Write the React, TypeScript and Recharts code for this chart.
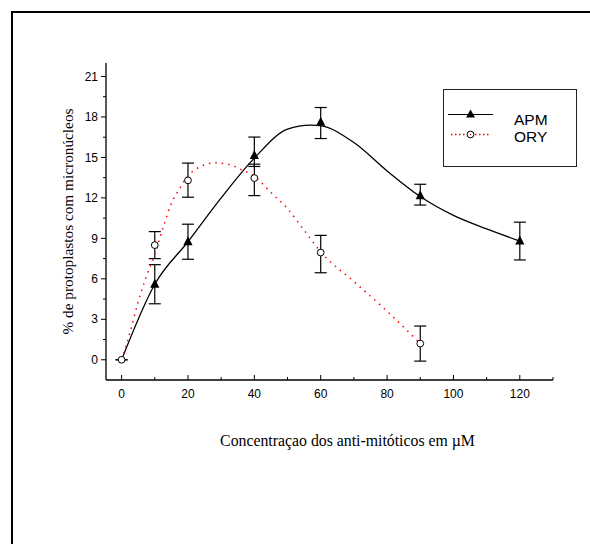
import React from "react";
import { ComposedChart, Line, Scatter, ErrorBar, XAxis, YAxis, Legend } from "recharts";

// measured points (concentration in µM, % with micronuclei) and error bar offsets [minus, plus]
const apmConc = [10, 20, 40, 60, 90, 120];
const apmValues = [5.6, 8.75, 15.15, 17.6, 12.15, 8.8];
const apmErrors = [[1.45, 1.45], [1.3, 1.3], [0.82, 1.36], [1.2, 1.1], [0.68, 0.86], [1.4, 1.4]];

const oryConc = [0, 10, 20, 40, 60, 90];
const oryValues = [0, 8.5, 13.3, 13.47, 7.95, 1.2];
const oryErrors = [[0, 0], [1.0, 1.0], [1.25, 1.28], [1.3, 1.03], [1.5, 1.27], [1.3, 1.3]];

// fitted curves
const apmFitX = [0, 10, 20, 30, 40, 50, 57, 60, 70, 80, 90, 100, 110, 120];
const apmFitY = [0, 5.6, 8.75, 12.0, 14.95, 17.1, 17.4, 17.35, 16.1, 14.0, 12.1, 10.7, 9.7, 8.8];

const oryFitX = [0, 2.5, 5, 7.5, 10, 12.5, 15, 17.5, 20, 22.5, 25, 28, 32, 36, 40, 45, 50, 55, 60, 70, 80, 90];
const oryFitY = [0, 2.0, 4.3, 6.2, 7.8, 9.8, 11.6, 12.7, 13.65, 14.15, 14.45, 14.6, 14.5, 14.1, 13.6, 12.4, 11.2, 9.6, 8.0, 5.8, 3.6, 1.2];

const xMajorTicks = [0, 20, 40, 60, 80, 100, 120];
const xMinorTicks = [10, 30, 50, 70, 90, 110, 130];
const yMajorTicks = [0, 3, 6, 9, 12, 15, 18, 21];
const yMinorTicks = [1.5, 4.5, 7.5, 10.5, 13.5, 16.5, 19.5];

const xTitle = "Concentraçao dos anti-mitóticos em µM";
const yTitle = "% de protoplastos com micronúcleos";

const apmPoints = apmConc.map((x, i) => ({ x, y: apmValues[i], err: apmErrors[i] }));
const oryPoints = oryConc.map((x, i) => ({ x, y: oryValues[i], err: oryErrors[i] }));
const apmFit = apmFitX.map((x, i) => ({ x, y: apmFitY[i] }));
const oryFit = oryFitX.map((x, i) => ({ x, y: oryFitY[i] }));

const sans = "'Liberation Sans', Arial, sans-serif";
const serif = "'Liberation Serif', 'Times New Roman', serif";

function XTick(props: any) {
  const { x, y, payload } = props;
  const axisY = y - 9;
  const major = xMajorTicks.includes(payload.value);
  return (
    <g>
      <line x1={x} x2={x} y1={axisY} y2={axisY - (major ? 5 : 3)} stroke="#000" strokeWidth={1} />
      {major && (
        <text x={x} y={y} dy="0.71em" textAnchor="middle" fontFamily={sans} fontSize={12} fill="#000">
          {payload.value}
        </text>
      )}
    </g>
  );
}

function YTick(props: any) {
  const { x, y, payload } = props;
  const axisX = x + 8;
  const major = yMajorTicks.includes(payload.value);
  return (
    <g>
      <line x1={axisX} x2={axisX - (major ? 5 : 3)} y1={y} y2={y} stroke="#000" strokeWidth={1} />
      {major && (
        <text x={x} y={y} dy="0.35em" textAnchor="end" fontFamily={sans} fontSize={12} fill="#000">
          {payload.value}
        </text>
      )}
    </g>
  );
}

const Triangle = (p: any) => (
  <path d={`M${p.cx},${p.cy - 5.5}L${p.cx + 4.6},${p.cy + 3.5}L${p.cx - 4.6},${p.cy + 3.5}Z`} fill="#000" />
);
const Ring = (p: any) => <circle cx={p.cx} cy={p.cy} r={3.4} fill="#fff" stroke="#000" strokeWidth={1} />;

function LegendBox() {
  return (
    <div style={{ width: 132, height: 76, border: "1px solid #222", background: "#fff" }}>
      <svg width={132} height={76} style={{ display: "block" }}>
        <line x1={4} x2={49} y1={24.5} y2={24.5} stroke="#000" strokeWidth={1.2} />
        <path d="M26.5,19.5L31,27.5L22,27.5Z" fill="#000" />
        <text x={70} y={35} fontFamily={sans} fontSize={15.5} fill="#000">APM</text>
        <line x1={7} x2={45} y1={44.5} y2={44.5} stroke="#f00" strokeWidth={1.5} strokeDasharray="1.5 2.5" />
        <circle cx={26.5} cy={44.5} r={3.4} fill="#fff" stroke="#000" strokeWidth={1} />
        <circle cx={26.5} cy={44.5} r={0.8} fill="#f00" />
        <text x={70} y={52} fontFamily={sans} fontSize={15.5} fill="#000">ORY</text>
      </svg>
    </div>
  );
}

export default function App() {
  return (
    <div style={{ position: "absolute", left: 0, top: 0, width: 590, height: 544, overflow: "hidden", background: "#fff" }}>
      <div
        style={{
          position: "absolute",
          left: 11,
          top: 11,
          width: 620,
          height: 580,
          borderLeft: "2px solid #000",
          borderTop: "2px solid #000",
        }}
      />
      <div style={{ position: "absolute", left: 0, top: 0 }}>
        <ComposedChart width={590} height={544} margin={{ top: 63, right: 37, bottom: 134, left: 0 }}>
          <XAxis
            type="number"
            dataKey="x"
            domain={[-4.7, 130]}
            ticks={[...xMajorTicks, ...xMinorTicks].sort((a, b) => a - b)}
            allowDataOverflow
            height={30}
            tickSize={5}
            tickMargin={4}
            tickLine={false}
            axisLine={{ stroke: "#000", strokeWidth: 1.3 }}
            tick={<XTick />}
            interval={0}
            label={(p: any) => {
              const vb = p.viewBox;
              return (
                <text x={vb.x + vb.width / 2 + 18} y={vb.y + 66} textAnchor="middle" fontFamily={serif} fontSize={15.8} fill="#000">
                  {xTitle}
                </text>
              );
            }}
          />
          <YAxis
            type="number"
            dataKey="y"
            domain={[-1.5, 22]}
            ticks={[...yMajorTicks, ...yMinorTicks].sort((a, b) => a - b)}
            allowDataOverflow
            width={106}
            tickSize={5}
            tickMargin={3}
            tickLine={false}
            axisLine={{ stroke: "#000", strokeWidth: 1.3 }}
            tick={<YTick />}
            interval={0}
            label={(p: any) => {
              const vb = p.viewBox;
              const cx = vb.x + 73;
              const cy = vb.y + vb.height / 2;
              return (
                <text x={cx} y={cy} textAnchor="middle" transform={`rotate(-90, ${cx}, ${cy})`} fontFamily={serif} fontSize={15.3} fill="#000">
                  {yTitle}
                </text>
              );
            }}
          />
          <Legend
            layout="vertical"
            align="center"
            verticalAlign="middle"
            content={() => <LegendBox />}
            wrapperStyle={{ left: 443, top: 89, width: 134, height: 78 }}
          />
          <Scatter name="APM" data={apmPoints} shape={<Triangle />} isAnimationActive={false}>
            <ErrorBar dataKey="err" direction="y" width={6} stroke="#000" strokeWidth={1.2} />
          </Scatter>
          <Scatter name="ORY" data={oryPoints} shape={<Ring />} isAnimationActive={false}>
            <ErrorBar dataKey="err" direction="y" width={6} stroke="#000" strokeWidth={1.2} />
          </Scatter>
          <Line
            data={apmFit}
            dataKey="y"
            type="monotone"
            stroke="#000"
            strokeWidth={1.3}
            dot={false}
            activeDot={false}
            legendType="none"
            isAnimationActive={false}
          />
          <Line
            data={oryFit}
            dataKey="y"
            type="monotone"
            stroke="#f00"
            strokeWidth={1.5}
            strokeDasharray="1.5 5"
            dot={false}
            activeDot={false}
            legendType="none"
            isAnimationActive={false}
          />
        </ComposedChart>
      </div>
    </div>
  );
}
